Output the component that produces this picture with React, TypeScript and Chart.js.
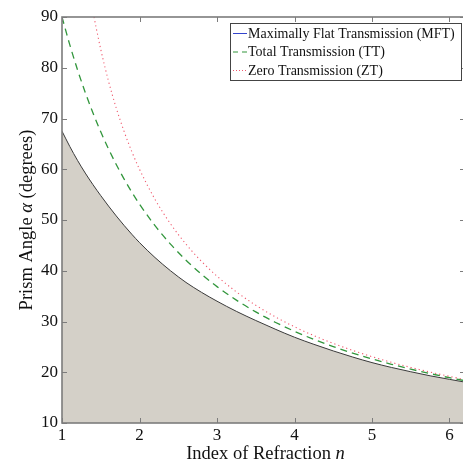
import React, { useEffect, useRef } from "react";
import { Chart, registerables } from "chart.js";

Chart.register(...registerables);

// Index of refraction grid for MFT and TT curves
const nGrid = [1, 1.1, 1.2, 1.3, 1.4, 1.5, 1.6, 1.7, 1.8, 1.9, 2, 2.2, 2.4, 2.6, 2.8, 3, 3.25, 3.5, 3.75, 4, 4.25, 4.5, 4.75, 5, 5.25, 5.5, 5.75, 6, 6.2];
// Maximally Flat Transmission (degrees)
const mftValues = [67.5, 64.5, 61.75, 59.25, 56.95, 54.8, 52.75, 50.8, 48.95, 47.2, 45.55, 42.6, 40.0, 37.7, 35.75, 34.0, 32.0, 30.2, 28.5, 26.9, 25.5, 24.2, 23.0, 21.9, 20.95, 20.1, 19.3, 18.6, 18.05];
// Total Transmission (degrees)
const ttValues = [90, 84.55, 79.61, 75.14, 71.08, 67.38, 64.01, 60.93, 58.11, 55.52, 53.13, 48.89, 45.24, 42.08, 39.31, 36.87, 34.21, 31.89, 29.86, 28.07, 26.48, 25.06, 23.78, 22.62, 21.57, 20.61, 19.73, 18.92, 18.32];
// Zero Transmission grid and values
const ztGrid = [1.4142, 1.42, 1.43, 1.45, 1.5, 1.6, 1.7, 1.8, 1.9, 2, 2.2, 2.4, 2.6, 2.8, 3, 3.25, 3.5, 3.75, 4, 4.25, 4.5, 4.75, 5, 5.25, 5.5, 5.75, 6, 6.2];
const ztValues = [90, 89.5, 88.7, 87.2, 83.62, 77.36, 72.06, 67.5, 63.51, 60.0, 54.07, 49.25, 45.24, 41.85, 38.94, 35.84, 33.2, 30.93, 28.96, 27.22, 25.68, 24.31, 23.07, 21.96, 20.95, 20.03, 19.19, 18.56];

const xTicks = [1, 2, 3, 4, 5, 6];
const yTicks = [10, 20, 30, 40, 50, 60, 70, 80, 90];

const legendLabels = [
  "Maximally Flat Transmission (MFT)",
  "Total Transmission (TT)",
  "Zero Transmission (ZT)",
];

const SERIF = "'Liberation Serif', 'Times New Roman', serif";
const FILL = "rgb(212,208,200)";
const MFT_LINE = "#3a3a3a";
const MFT_LEGEND = "#3344cc";
const TT_COLOR = "rgb(50,150,60)";
const ZT_COLOR = "rgb(240,90,110)";
const FRAME = "#7c7c7c";
const TITLE_SIZE = 18.5;

const decor = {
  id: "decor",
  afterDatasetsDraw(chart: any) {
    const { ctx, chartArea, scales } = chart;
    const { left, right, top, bottom } = chartArea;
    const x = scales.x;
    const y = scales.y;
    ctx.save();
    // inward ticks
    ctx.strokeStyle = FRAME;
    ctx.lineWidth = 1;
    ctx.beginPath();
    for (const v of xTicks) {
      const px = Math.round(x.getPixelForValue(v)) + 0.5;
      ctx.moveTo(px, bottom);
      ctx.lineTo(px, bottom - 5);
      ctx.moveTo(px, top);
      ctx.lineTo(px, top + 5);
    }
    for (const v of yTicks) {
      const py = Math.round(y.getPixelForValue(v)) + 0.5;
      ctx.moveTo(left, py);
      ctx.lineTo(left + 5, py);
      ctx.moveTo(right, py);
      ctx.lineTo(right - 5, py);
    }
    ctx.stroke();
    // frame
    ctx.lineWidth = 1.6;
    ctx.strokeRect(left, top, right - left, bottom - top);

    // legend
    const lx = 230.5, ly = 23.5, lw = 231, lh = 57;
    ctx.fillStyle = "#fff";
    ctx.fillRect(lx, ly, lw, lh);
    ctx.strokeStyle = "#444";
    ctx.lineWidth = 1;
    ctx.strokeRect(lx, ly, lw, lh);
    const rows = [33.5, 52, 70.5];
    const styles = [
      { color: MFT_LEGEND, dash: [] as number[], w: 1 },
      { color: TT_COLOR, dash: [5, 4], w: 1.2 },
      { color: ZT_COLOR, dash: [1, 2], w: 1 },
    ];
    ctx.font = `14px ${SERIF}`;
    ctx.textBaseline = "middle";
    ctx.textAlign = "left";
    rows.forEach((ry, i) => {
      const s = styles[i];
      ctx.strokeStyle = s.color;
      ctx.lineWidth = s.w;
      ctx.setLineDash(s.dash);
      ctx.beginPath();
      ctx.moveTo(233, ry);
      ctx.lineTo(247, ry);
      ctx.stroke();
      ctx.setLineDash([]);
      ctx.fillStyle = "#111";
      ctx.fillText(legendLabels[i], 248, ry + 0.5);
    });
    ctx.restore();
  },
  afterDraw(chart: any) {
    const { ctx, chartArea } = chart;
    const { left, right, top, bottom } = chartArea;
    ctx.save();
    ctx.fillStyle = "#111";
    ctx.textBaseline = "middle";
    // x title
    const xPart1 = "Index of Refraction ";
    const xPart2 = "n";
    ctx.font = `${TITLE_SIZE}px ${SERIF}`;
    const w1 = ctx.measureText(xPart1).width;
    ctx.font = `italic ${TITLE_SIZE}px ${SERIF}`;
    const w2 = ctx.measureText(xPart2).width;
    const cx = (left + right) / 2 + 2;
    const sx = cx - (w1 + w2) / 2;
    ctx.textAlign = "left";
    ctx.font = `${TITLE_SIZE}px ${SERIF}`;
    ctx.fillText(xPart1, sx, 454);
    ctx.font = `italic ${TITLE_SIZE}px ${SERIF}`;
    ctx.fillText(xPart2, sx + w1, 454);

    // y title
    const parts = [
      { t: "Prism Angle ", it: false },
      { t: "\u03b1", it: true },
      { t: " (degrees)", it: false },
    ];
    let total = 0;
    const widths = parts.map((p) => {
      ctx.font = `${p.it ? "italic " : ""}${TITLE_SIZE}px ${SERIF}`;
      const w = ctx.measureText(p.t).width;
      total += w;
      return w;
    });
    ctx.translate(27, (top + bottom) / 2);
    ctx.rotate(-Math.PI / 2);
    let px = -total / 2;
    parts.forEach((p, i) => {
      ctx.font = `${p.it ? "italic " : ""}${TITLE_SIZE}px ${SERIF}`;
      ctx.fillText(p.t, px, 0);
      px += widths[i];
    });
    ctx.restore();
  },
};

export default function App() {
  const ref = useRef<HTMLCanvasElement | null>(null);
  useEffect(() => {
    if (!ref.current) return;
    const chart = new Chart(ref.current, {
      type: "line",
      data: {
        datasets: [
          {
            label: "MFT",
            data: nGrid.map((n, i) => ({ x: n, y: mftValues[i] })),
            borderColor: MFT_LINE,
            backgroundColor: FILL,
            borderWidth: 1,
            fill: "start",
            pointRadius: 0,
            cubicInterpolationMode: "monotone",
            order: 3,
          },
          {
            label: "TT",
            data: nGrid.map((n, i) => ({ x: n, y: ttValues[i] })),
            borderColor: TT_COLOR,
            borderWidth: 1.3,
            borderDash: [7, 5],
            fill: false,
            pointRadius: 0,
            cubicInterpolationMode: "monotone",
            order: 2,
          },
          {
            label: "ZT",
            data: ztGrid.map((n, i) => ({ x: n, y: ztValues[i] })),
            borderColor: ZT_COLOR,
            borderWidth: 1.1,
            borderDash: [1.2, 3],
            fill: false,
            pointRadius: 0,
            cubicInterpolationMode: "monotone",
            order: 1,
          },
        ],
      },
      options: {
        animation: false,
        responsive: false,
        devicePixelRatio: 1,
        layout: { padding: { left: 0, top: 17, right: 3, bottom: 0 } },
        plugins: {
          legend: { display: false },
          tooltip: { enabled: false },
          title: { display: false },
        },
        scales: {
          x: {
            type: "linear",
            min: 1,
            max: 6.2,
            grid: { display: false, drawTicks: false },
            border: { display: false },
            afterBuildTicks: (s: any) => {
              s.ticks = xTicks.map((v) => ({ value: v }));
            },
            afterFit: (s: any) => {
              s.height = 41;
            },
            ticks: {
              padding: 2,
              color: "#111",
              font: { family: SERIF, size: 17 },
              maxRotation: 0,
              autoSkip: false,
              callback: (v: any) => String(v),
            },
          },
          y: {
            type: "linear",
            min: 10,
            max: 90,
            grid: { display: false, drawTicks: false },
            border: { display: false },
            afterBuildTicks: (s: any) => {
              s.ticks = yTicks.map((v) => ({ value: v }));
            },
            afterFit: (s: any) => {
              s.width = 62;
            },
            ticks: {
              padding: 4,
              color: "#111",
              font: { family: SERIF, size: 17 },
              autoSkip: false,
              callback: (v: any) => String(v),
            },
          },
        },
      },
      plugins: [decor],
    });
    return () => chart.destroy();
  }, []);

  return (
    <div style={{ position: "absolute", left: 0, top: 0, width: 463, height: 464, overflow: "hidden", background: "#fff" }}>
      <canvas ref={ref} width={468} height={464} style={{ width: 468, height: 464, display: "block" }} />
    </div>
  );
}
